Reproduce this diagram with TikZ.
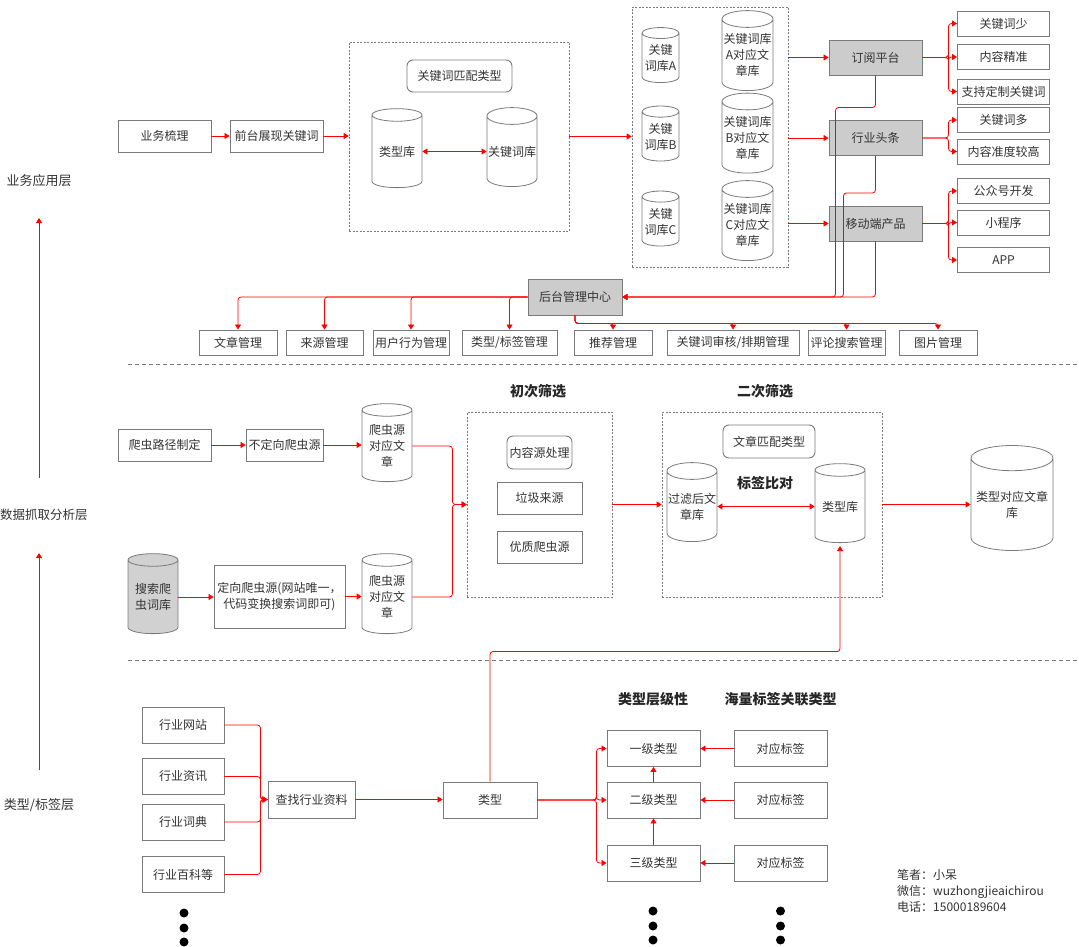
\documentclass[tikz,border=0pt]{standalone}
\usepackage{fontspec}
\setmainfont{Noto Sans CJK SC}
\usetikzlibrary{positioning, arrows.meta, shapes.geometric}
\definecolor{BoxGray}{RGB}{122,122,122}
\definecolor{FillGray}{RGB}{204,204,204}
\definecolor{TextGray}{RGB}{51,51,51}
\definecolor{LineRed}{RGB}{255,0,0}

\begin{document}
\begin{tikzpicture}[x=1pt, y=-1pt, font=\fontsize{12}{16}\selectfont, text=TextGray]
        \tikzstyle{box} = [rectangle, draw=BoxGray, line width=0.9pt, inner sep=1pt, align=center]
        \tikzstyle{gbox} = [box, fill=FillGray]
        \tikzstyle{rbox} = [box, rounded corners=6pt]
        \tikzstyle{group} = [rectangle, draw=BoxGray, dash pattern=on 2pt off 1.5pt, line width=0.6pt, inner sep=0pt]
        \tikzstyle{db} = [cylinder, shape border rotate=90, draw=BoxGray, line width=0.8pt,
          aspect=0.35, inner sep=0pt, align=center, fill=white]
        \tikzstyle{link} = [color=LineRed, line width=0.8pt, -{Triangle[length=5pt, width=6pt]}, rounded corners=3pt]
        \tikzstyle{link2} = [link, {Triangle[length=5pt, width=6pt]}-{Triangle[length=5pt, width=6pt]}]
        \tikzstyle{head} = [font=\fontsize{14}{16}\selectfont\bfseries, text=black!85]

        \useasboundingbox (0,0) rectangle (1079,947);

        % layers
        \node[font=\fontsize{13}{16}\selectfont] (layerApp) at (39,181) {业务应用层};
        \node[font=\fontsize{12.5}{16}\selectfont] (layerData) at (44,515) {数据抓取分析层};
        \node[font=\fontsize{13}{16}\selectfont] (layerTag) at (39,805) {类型/标签层};
        \draw[link, shorten <=37pt, shorten >=37pt] (layerData.center -| layerApp.center) -- (layerApp.center);
        \draw[link, shorten <=35pt, shorten >=38pt] (layerTag.center) -- (layerData.center -| layerTag.center);

        \draw[BoxGray, dash pattern=on 4pt off 3pt, line width=0.7pt] (128,364.5) -- (1079,364.5);
        \draw[BoxGray, dash pattern=on 4pt off 3pt, line width=0.7pt] (128,660) -- (1079,660);

        % business
        \node[box, minimum width=93pt, minimum height=32pt] (ywsl) at (164.5,136) {业务梳理};
        \node[box, minimum width=93pt, minimum height=32pt] (qtzx) at (276.5,136) {前台展现关键词};

        \node[group, minimum width=220pt, minimum height=189pt] (kwMatch) at (459,136.5) {};
        \node[rbox, minimum width=105pt, minimum height=32pt] (kwType) at (459.5,76) {关键词匹配类型};
        \node[db, minimum width=50pt, minimum height=79pt] (typeLib) at (397,151.5) {类型库};
        \node[db, minimum width=50pt, minimum height=79pt] (kwLib) at (512,151.5) {关键词库};

        \node[group, minimum width=156pt, minimum height=260pt] (kwSplit) at (710,137) {};
        \foreach \n/\y/\l in {kwA/58/A, kwB/136.5/B, kwC/221.5/C}
          \node[db, minimum width=37pt, minimum height=55pt] (\n) at (660.5,\y) {关键\\词库\l};
        \foreach \n/\y/\l in {artA/55/A, artB/137.5/B, artC/225/C}
          \node[db, minimum width=51pt, minimum height=80pt] (\n) at (747.5,\y) {关键词库\\\l 对应文\\章库};

        \node[gbox, minimum width=93pt, minimum height=35pt] (dypt) at (875.5,57.5) {订阅平台};
        \node[gbox, minimum width=93pt, minimum height=35pt] (hytt) at (875.5,138) {行业头条};
        \node[gbox, minimum width=93pt, minimum height=35pt] (ydcp) at (875.5,223.5) {移动端产品};

        \foreach \n/\y/\t in {r1/23.5/关键词少, r2/57/内容精准, r3/91.5/支持定制关键词, r4/120/关键词多,
                              r5/151.5/内容准度较高, r6/191/公众号开发, r7/222.5/小程序, r8/260/APP}
          \node[box, minimum width=92pt, minimum height=25pt] (\n) at (1003.5,\y) {\t};

        \node[gbox, minimum width=94pt, minimum height=36pt] (htgl) at (575,297) {后台管理中心};
        \foreach \n/\x/\w/\t in {m1/238/78/文章管理, m2/324.5/77/来源管理, m3/411/76/用户行为管理,
                                 m4/509.5/95/{类型/标签管理}, m5/613/78/推荐管理, m6/733/132/{关键词审核/排期管理},
                                 m7/846.5/77/评论搜索管理, m8/938/78/图片管理}
          \node[box, minimum width=\w pt, minimum height=25pt] (\n) at (\x,342.5) {\t};

        \draw[link] (ywsl) -- (qtzx);
        \draw[link] (qtzx.east) -- (qtzx.east -| kwMatch.west);
        \draw[link2] (typeLib.east) -- (kwLib.west);
        \draw[link] (kwMatch.east) -- (kwMatch.east -| kwSplit.west);
        \foreach \g in {dypt, hytt, ydcp}
          \draw[link] (\g.west -| kwSplit.east) -- (\g.west);
        \foreach \r in {r1, r2, r3}
          \draw[link] (dypt.east) -- ++(26,0) |- (\r.west);
        \foreach \r in {r4, r5}
          \draw[link] (hytt.east) -- ++(26,0) |- (\r.west);
        \foreach \r in {r6, r7, r8}
          \draw[link] (ydcp.east) -- ++(26,0) |- (\r.west);
        \draw[link] (dypt.south) -- ++(0,32) -- ++(-40,0) |- (htgl.east);
        \draw[link] (hytt.south) -- ++(0,37) -- ++(-32,0) |- (htgl.east);
        \draw[link] (ydcp.south) |- (htgl.east);
        \foreach \m in {m1, m2, m3, m4}
          \draw[link] (htgl.west) -| (\m.north);
        \foreach \m in {m5, m6, m7, m8}
          \draw[link] (htgl.south) -- ++(0,8) -| (\m.north);

        % crawling
        \node[box, minimum width=93pt, minimum height=32pt] (pclj) at (164.5,445) {爬虫路径制定};
        \node[box, minimum width=77pt, minimum height=32pt] (bdx) at (284.5,445) {不定向爬虫源};
        \node[db, minimum width=50pt, minimum height=78pt] (srcA) at (387,446) {爬虫源\\对应文\\章};
        \node[db, fill=black!18, minimum width=50pt, minimum height=80pt] (sscc) at (153,597) {搜索爬\\虫词库};
        \node[box, minimum width=131pt, minimum height=63pt] (dx) at (279.5,596.5) {定向爬虫源(网站唯一，\\代码变换搜索词即可)};
        \node[db, minimum width=50pt, minimum height=80pt] (srcB) at (387,597) {爬虫源\\对应文\\章};

        \node[head] (first) at (538,391) {初次筛选};
        \node[group, minimum width=145pt, minimum height=185pt] (filterA) at (539.5,504.5) {};
        \node[rbox, minimum width=65pt, minimum height=33pt] (nrcl) at (539.5,452.5) {内容源处理};
        \node[box, minimum width=85pt, minimum height=32pt] (ljly) at (539.5,498) {垃圾来源};
        \node[box, minimum width=85pt, minimum height=32pt] (yzpc) at (539.5,547) {优质爬虫源};

        \node[head] (second) at (765,391) {二次筛选};
        \node[group, minimum width=220pt, minimum height=185pt] (filterB) at (772,504.5) {};
        \node[rbox, minimum width=92pt, minimum height=33pt] (wzpp) at (769,441.5) {文章匹配类型};
        \node[head] (bqbd) at (765,483) {标签比对};
        \node[db, minimum width=50pt, minimum height=79pt] (glk) at (692,506.5) {过滤后文\\章库};
        \node[db, minimum width=50pt, minimum height=79pt] (typeLibB) at (840,506.5) {类型库};
        \node[db, minimum width=82pt, minimum height=105pt] (typeArt) at (1012,504.5) {类型对应文章\\库};

        \draw[link] (pclj) -- (bdx);
        \draw[link] (bdx.east) -- (bdx.east -| srcA.west);
        \draw[link] (sscc.east) -- (sscc.east -| dx.west);
        \draw[link] (dx.east) -- (dx.east -| srcB.west);
        \draw[link] (srcA.east) -- ++(40,0) |- (filterA.west);
        \draw[link] (srcB.east) -- ++(40,0) |- (filterA.west);
        \draw[link] (filterA.east) -- (filterB.west);
        \draw[link2] (glk.east) -- (typeLibB.west);
        \draw[link] (filterB.east) -- (filterB.east -| typeArt.west);

        % types and tags
        \foreach \n/\y/\t in {s1/725/行业网站, s2/776.5/行业资讯, s3/822/行业词典, s4/874.5/行业百科等}
          \node[box, minimum width=82pt, minimum height=36pt] (\n) at (183,\y) {\t};
        \node[box, minimum width=87pt, minimum height=37pt] (czzl) at (311.5,799.5) {查找行业资料};
        \node[box, minimum width=94pt, minimum height=36pt] (lx) at (490,800) {类型};

        \node[head] (levelHead) at (653,699) {类型层级性};
        \node[head] (tagHead) at (780.5,699) {海量标签关联类型};
        \foreach \n/\y/\t in {t1/748.5/一级类型, t2/800/二级类型, t3/863/三级类型}
          \node[box, minimum width=93pt, minimum height=36pt] (\n) at (653.5,\y) {\t};
        \foreach \n/\y in {b1/748.5, b2/800, b3/863}
          \node[box, minimum width=93pt, minimum height=36pt] (\n) at (780.5,\y) {对应标签};

        \foreach \s in {s1, s2, s3, s4}
          \draw[link] (\s.east) -- ++(36,0) |- (czzl.west);
        \draw[link] (czzl.east) -- (czzl.east -| lx.west);
        \draw[link, shorten >=3pt] (lx.north) -- ++(0,-130) -| (typeLibB.south);
        \foreach \t in {t1, t2, t3}
          \draw[link] (lx.east) -- ++(59,0) |- (\t.west);
        \draw[link] (b1) -- (t1);
        \draw[link] (b2) -- (t2);
        \draw[link] (b3) -- (t3);
        \draw[link] (t2) -- (t1);
        \draw[link] (t3) -- (t2);

        \foreach \y in {913, 928, 942}
          \fill[black] (184,\y) circle (4.5pt);
        \foreach \x in {653, 780.5}
          \foreach \y in {911, 926, 940}
            \fill[black] (\x,\y) circle (4.5pt);

        \node[anchor=west, align=left, inner sep=0pt] (author) at (897,891) {笔者：小呆\\微信：wuzhongjieaichirou\\电话：15000189604};
      \end{tikzpicture}
\end{document}
